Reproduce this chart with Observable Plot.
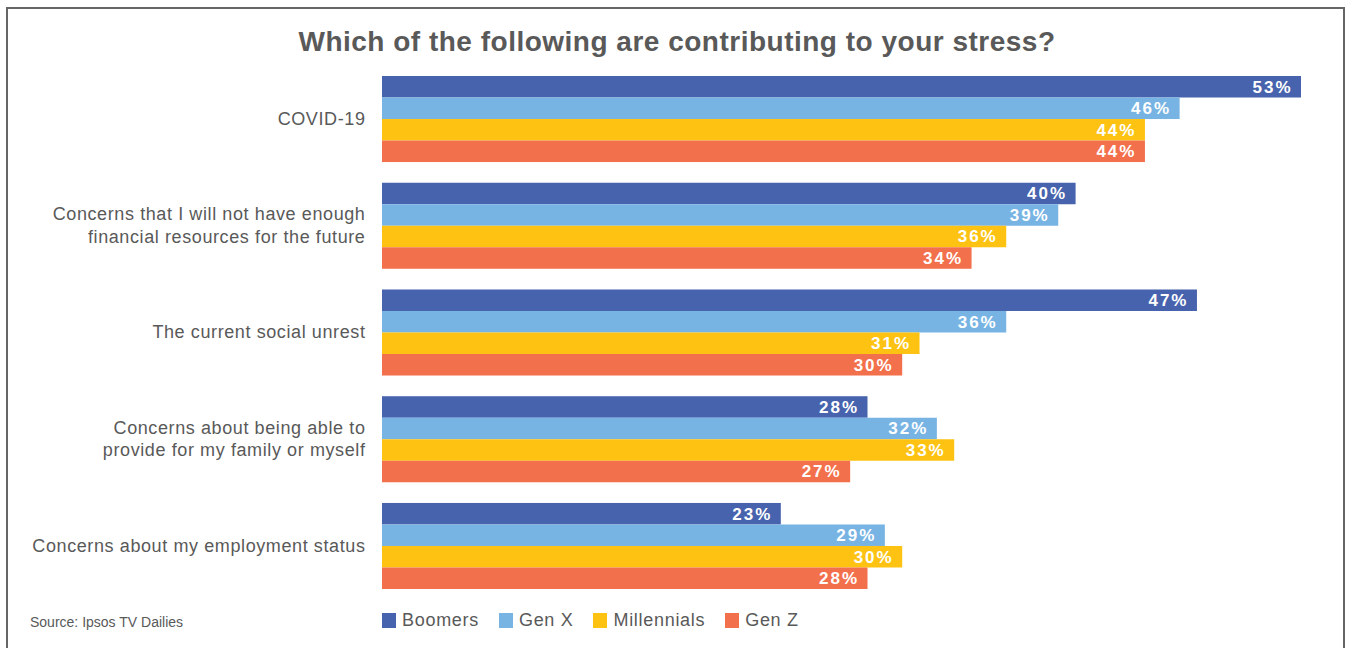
<!DOCTYPE html>
<html>
<head>
<meta charset="utf-8">
<script src="https://cdn.jsdelivr.net/npm/d3@7"></script>
<script src="https://cdn.jsdelivr.net/npm/@observablehq/plot@0.6"></script>
<style>
  html, body { margin: 0; padding: 0; background: #fff; }
  body { width: 1350px; height: 648px; position: relative; overflow: hidden; font-family: "Liberation Sans", Arial, Helvetica, sans-serif; }
  #frame { position: absolute; left: 6px; top: 7px; width: 1339px; height: 660px; border: 2px solid #666; box-sizing: border-box; }
  #title { position: absolute; left: 0; width: 1354px; top: 28px; line-height: 28px; text-align: center; font-size: 28px; font-weight: bold; color: #595959; letter-spacing: 0.5px; }
  #chart { position: absolute; left: 0; top: 66px; }
  #source { position: absolute; left: 30px; top: 614px; font-size: 14px; color: #595959; }
  #legend { position: absolute; left: 382px; top: 610px; display: flex; font-size: 18px; color: #595959; letter-spacing: 0.7px; }
  .item { display: flex; align-items: center; margin-right: 20px; }
  .sw { width: 14px; height: 15px; margin-right: 6px; }
</style>
</head>
<body>
<div id="frame"></div>
<div id="title">Which of the following are contributing to your stress?</div>
<div id="chart"></div>
<div id="source">Source: Ipsos TV Dailies</div>
<div id="legend"></div>
<script>
const categories = [
  "COVID-19",
  "Concerns that I will not have enough\nfinancial resources for the future",
  "The current social unrest",
  "Concerns about being able to\nprovide for my family or myself",
  "Concerns about my employment status"
];
const series = ["Boomers", "Gen X", "Millennials", "Gen Z"];
const colors = ["#4763AD", "#78B4E3", "#FEC312", "#F3704C"];
const boomers = [53, 40, 47, 28, 23];
const genX = [46, 39, 36, 32, 29];
const millennials = [44, 36, 31, 33, 30];
const genZ = [44, 34, 30, 27, 28];

const valuesBySeries = [boomers, genX, millennials, genZ];
const data = [];
categories.forEach((c, i) => {
  series.forEach((s, j) => {
    data.push({category: c, series: s, value: valuesBySeries[j][i]});
  });
});

const chart = Plot.plot({
  width: 1350,
  height: 528,
  marginLeft: 382,
  marginRight: 49,
  marginTop: 10,
  marginBottom: 5,
  style: {fontFamily: '"Liberation Sans", Arial, Helvetica, sans-serif', background: "transparent"},
  x: {domain: [0, 53], axis: null},
  y: {domain: series, padding: 0, axis: null, round: false},
  fy: {domain: categories, paddingInner: 0.194, paddingOuter: 0, round: false, label: null},
  color: {domain: series, range: colors},
  marks: [
    Plot.barX(data, {fy: "category", y: "series", x: "value", fill: "series"}),
    Plot.text(data, {fy: "category", y: "series", x: "value", text: d => d.value + "%", dx: -9, textAnchor: "end", fill: "white", fontWeight: "bold", fontSize: 17}),
    Plot.axisFy({anchor: "left", tickSize: 0, tickPadding: 17, fontSize: 18, lineHeight: 1.25, dy: -2, fill: "#595959", label: null})
  ]
});
d3.select(chart).selectAll('g[aria-label="text"] text').style("letter-spacing", "2px");
d3.select(chart).selectAll('g[aria-label="fy-axis tick label"] text').style("letter-spacing", "0.6px");
document.getElementById("chart").appendChild(chart);

const legend = document.getElementById("legend");
series.forEach((s, i) => {
  const item = document.createElement("div");
  item.className = "item";
  const sw = document.createElement("div");
  sw.className = "sw";
  sw.style.background = colors[i];
  const t = document.createElement("span");
  t.textContent = s;
  item.appendChild(sw);
  item.appendChild(t);
  legend.appendChild(item);
});
</script>
</body>
</html>
